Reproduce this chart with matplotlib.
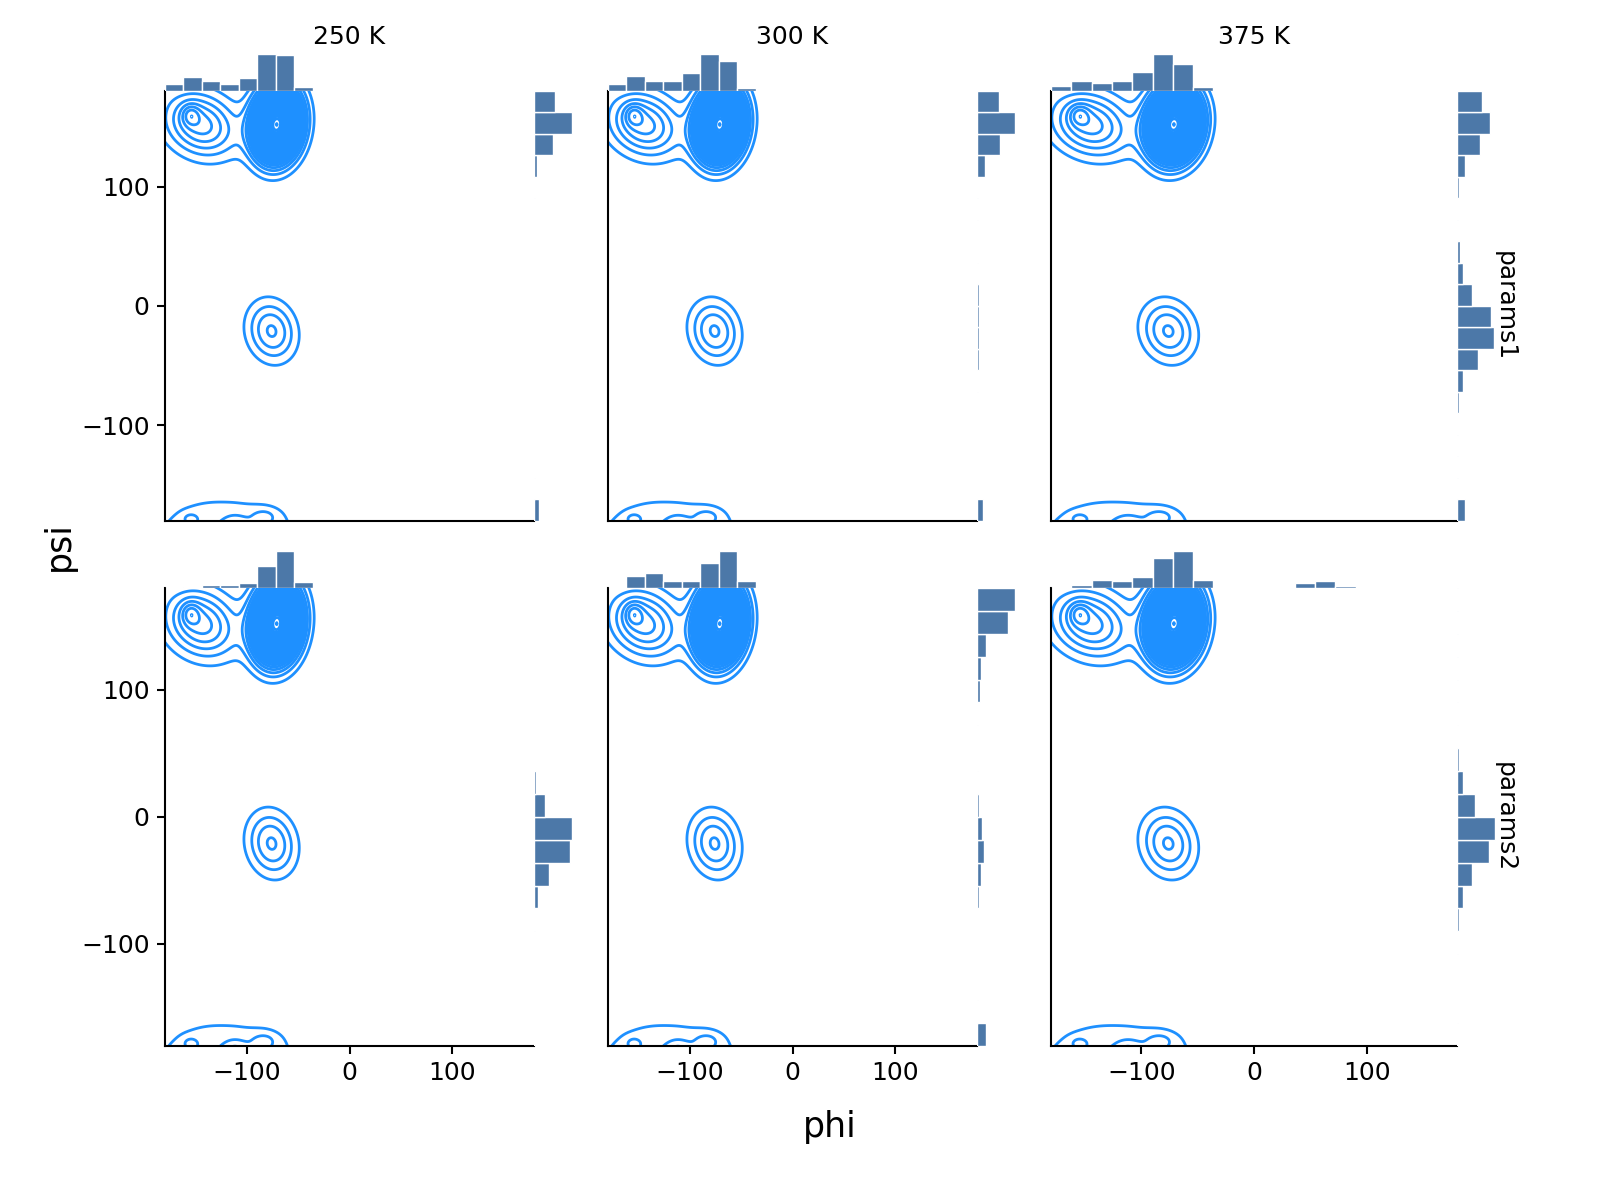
import numpy as np
import matplotlib
matplotlib.use("Agg")
import matplotlib.pyplot as plt

plt.rcParams['font.family'] = ['DejaVu Sans']

temperatures = ["250 K", "300 K", "375 K"]
param_sets = ["params1", "params2"]
bin_edges = np.arange(-180, 181, 18)

# phi marginal histograms (top), relative frequency per 18-degree bin
phi_p1_250 = [6.7, 14, 10.3, 7.3, 13, 37, 36, 4.3, 0.3, 0, 0, 0, 0, 0, 0, 0, 0, 0, 0.2, 0.5]
phi_p1_300 = [7, 15, 10.3, 10, 17.7, 36.7, 30.3, 3.3, 0.3, 0, 0, 0, 0, 0, 0, 0, 0, 0, 0.1, 0.5]
phi_p1_375 = [5.3, 10, 8.3, 10, 19.3, 37, 27, 4.3, 0.3, 0, 0, 0, 0, 0, 0, 0, 0, 0, 0.2, 0.5]
phi_p2_250 = [0, 1, 3, 3, 5, 22, 37, 6, 0.3, 0, 0, 0, 0, 0, 0, 0, 0, 0, 0, 0]
phi_p2_300 = [0.3, 11.7, 15.3, 7, 7, 25, 36.7, 7, 0.3, 0, 0, 0, 0, 0, 0, 0, 0, 0, 0, 0]
phi_p2_375 = [0, 3.3, 8, 6.7, 11, 30, 36.7, 7.7, 0.3, 0.2, 0.1, 0.3, 5, 7, 1.7, 0.2, 0, 0, 0, 0]

# psi marginal histograms (right), bins ordered from -180 upward
psi_p1_250 = [4.5, 0.5, 0.3, 0.2, 0.2, 0.2, 0.2, 0.2, 0.3, 0.3, 0.2, 0.2, 0.2, 0.3, 0.3, 0.7, 3.3, 18.7, 37.7, 20.7]
psi_p1_300 = [6, 0.3, 0.2, 0.2, 0.3, 0.3, 0.7, 1.5, 2, 2, 1.5, 0.7, 0.3, 0.3, 0.5, 1.3, 7.7, 23, 37.7, 22]
psi_p1_375 = [8, 1.3, 0.5, 0.5, 1, 1.7, 5.7, 20.7, 37.3, 34.3, 15.3, 5.7, 3.3, 1.3, 1.3, 2, 7.7, 22.7, 33.3, 25]
psi_p2_250 = [0, 0, 0, 0, 0, 0.7, 3.7, 15.3, 36, 37.7, 11, 1.7, 0.3, 0.3, 0.3, 0.3, 0.2, 0, 0, 0]
psi_p2_300 = [9.3, 1, 0.1, 0.1, 0.1, 0.3, 2, 3.7, 7, 5.3, 2.3, 1, 0.3, 0.3, 1, 2.7, 4, 9.3, 30.7, 37.5]
psi_p2_375 = [1, 0.3, 0.3, 0.3, 0.7, 1.7, 5.7, 15, 32, 37.7, 18.3, 6.3, 2.3, 1.3, 0.3, 0.5, 0.5, 0.5, 0.5, 1]

phi_hists = [[phi_p1_250, phi_p1_300, phi_p1_375], [phi_p2_250, phi_p2_300, phi_p2_375]]
psi_hists = [[psi_p1_250, psi_p1_300, psi_p1_375], [psi_p2_250, psi_p2_300, psi_p2_375]]

# Gaussian-mixture description of the (phi, psi) density shown by the contours
comp_phi = [-71, -155, -145, -76, -130, -155, -83, -112, -80, -200]
comp_psi = [152, 160, 152, -21, -195, -178, -175.5, -190, -185, 200]
comp_sphi = [14, 6, 24, 16, 45, 5, 9, 8, 20, 13]
comp_spsi = [18, 6, 18, 17, 26, 3, 4.5, 8, 12, 13]
comp_rho = [0.1, 0.0, -0.2, -0.12, 0.0, 0.0, 0.0, 0.0, 0.0, 0.0]
comp_peak = [30, 2.2, 5.5, 4.15, 2.0, 1.3, 1.0, 2.5, 0.8, 8.0]
contour_levels = np.arange(1, 31)

grid = np.linspace(-210, 210, 421)
P, S = np.meshgrid(grid, grid)
Z = np.zeros_like(P)
for mx, my, sx, sy, r, h in zip(comp_phi, comp_psi, comp_sphi, comp_spsi, comp_rho, comp_peak):
    dx = (P - mx) / sx
    dy = (S - my) / sy
    q = (dx ** 2 - 2 * r * dx * dy + dy ** 2) / (1 - r ** 2)
    Z += h * np.exp(-q / 2)

W, H = 1600, 1200
fig = plt.figure(figsize=(16, 12), dpi=100)

col_x = [(165, 534), (608, 977), (1051, 1457)]
row_y = [(91, 521), (588, 1045.7)]
hist_px = 40

bar_color = '#4C78A8'
line_color = '#1E90FF'
fs = 18

centers = (bin_edges[:-1] + bin_edges[1:]) / 2
for i in range(2):
    for j in range(3):
        x0, x1 = col_x[j]
        y0, y1 = row_y[i]
        ax = fig.add_axes([x0 / W, 1 - y1 / H, (x1 - x0) / W, (y1 - y0) / H])
        ax.contour(P, S, Z, levels=contour_levels, colors=line_color, linewidths=2.0)
        ax.set_xlim(-180, 180)
        ax.set_ylim(-180, 180)
        for sp in ['top', 'right']:
            ax.spines[sp].set_visible(False)
        for sp in ['left', 'bottom']:
            ax.spines[sp].set_linewidth(1.5)
            ax.spines[sp].set_color('black')
        ax.set_xticks([-100, 0, 100])
        ax.set_yticks([-100, 0, 100])
        ax.tick_params(length=6, width=1.5, labelsize=fs, pad=5)
        if i == 0:
            ax.tick_params(axis='x', bottom=False, labelbottom=False)
        if j > 0:
            ax.tick_params(axis='y', left=False, labelleft=False)

        # top marginal
        axt = fig.add_axes([x0 / W, 1 - y0 / H, (x1 - x0) / W, hist_px / H])
        axt.bar(centers, phi_hists[i][j], width=18, color=bar_color, edgecolor='white', linewidth=1)
        axt.set_xlim(-180, 180)
        axt.set_ylim(0, hist_px)
        axt.axis('off')

        # right marginal
        axr = fig.add_axes([x1 / W, 1 - y1 / H, hist_px / W, (y1 - y0) / H])
        axr.barh(centers, psi_hists[i][j], height=18, color=bar_color, edgecolor='white', linewidth=1)
        axr.set_ylim(-180, 180)
        axr.set_xlim(0, hist_px)
        axr.axis('off')

        if i == 0:
            fig.text((x0 + x1) / 2 / W, 1 - 37 / H, temperatures[j], ha='center', va='center', fontsize=fs)
    fig.text(1505 / W, 1 - (sum(row_y[i]) / 2) / H, param_sets[i], rotation=-90,
             ha='center', va='center', fontsize=fs)

fig.text(830 / W, 1 - 1127 / H, 'phi', ha='center', va='center', fontsize=25)
fig.text(59 / W, 1 - 546 / H, 'psi', ha='center', va='center', rotation=90, fontsize=25)

fig.savefig('out.png', dpi=100)
